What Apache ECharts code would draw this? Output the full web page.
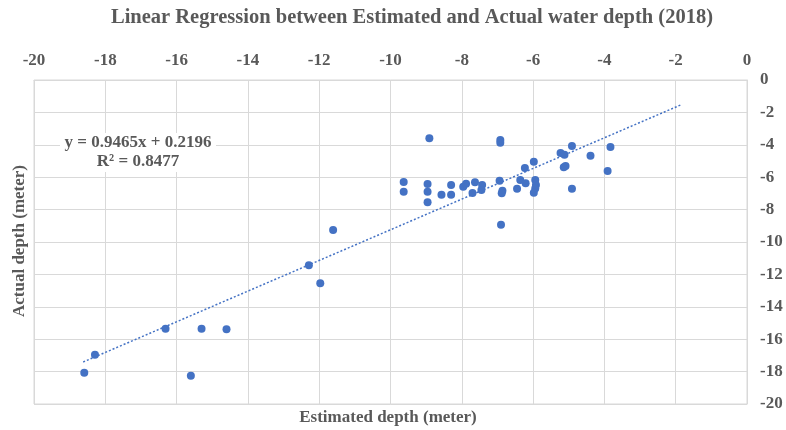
<!DOCTYPE html>
<html>
<head>
<meta charset="utf-8">
<title>Linear Regression</title>
<script src="https://cdn.jsdelivr.net/npm/echarts@6/dist/echarts.min.js"></script>
<style>
  html, body { margin: 0; padding: 0; background: #fff; }
  #main { width: 786px; height: 430px; }
</style>
</head>
<body>
<div id="main"></div>
<script>
// estimated depth (x) and actual depth (y)
var estimated = [-8.91, -6.92, -6.92, -9.63, -9.63, -8.96, -8.96, -8.96, -8.57, -8.30,
  -8.30, -7.96, -7.88, -7.70, -7.63, -7.43, -7.45, -6.94, -6.86, -6.88,
  -6.45, -6.36, -6.21, -6.23, -5.98, -5.94, -5.92, -5.94, -5.98, -4.91,
  -5.23, -5.12, -3.83, -4.39, -5.14, -5.09, -3.91, -4.91, -6.90, -11.61,
  -12.29, -11.97, -16.31, -15.30, -14.60, -18.29, -18.59, -15.60];
var actual = [-3.60, -3.70, -3.87, -6.30, -6.90, -6.42, -6.90, -7.55, -7.08, -6.48,
  -7.08, -6.59, -6.40, -6.98, -6.31, -6.48, -6.79, -6.22, -6.83, -6.99,
  -6.71, -6.17, -6.38, -5.43, -5.04, -6.17, -6.48, -6.69, -6.96, -4.07,
  -4.51, -4.61, -4.14, -4.67, -5.39, -5.31, -5.62, -6.71, -8.93, -9.26,
  -11.44, -12.55, -15.35, -15.35, -15.39, -16.96, -18.07, -18.25];

// trendline from the stated equation
var slope = 0.9465, intercept = 0.2196;
var trendRange = [-18.62, -1.84];

var xTicks = [-20, -18, -16, -14, -12, -10, -8, -6, -4, -2, 0];
var yTicks = [0, -2, -4, -6, -8, -10, -12, -14, -16, -18, -20];

var points = estimated.map(function (x, i) { return [x, actual[i]]; });
var trend = trendRange.map(function (x) { return [x, slope * x + intercept]; });

var grey = '#595959';
var fontFam = '"Liberation Serif", "DejaVu Serif", serif';

var myChart = echarts.init(document.getElementById('main'));
myChart.setOption({
  animation: false,
  backgroundColor: '#fff',
  grid: { left: 34, right: 39, top: 80, bottom: 26 },
  xAxis: {
    type: 'value',
    position: 'top',
    min: xTicks[0],
    max: xTicks[xTicks.length - 1],
    interval: 2,
    axisLine: { show: true, lineStyle: { color: '#d9d9d9' } },
    axisTick: { show: false },
    axisLabel: { margin: 11, fontFamily: fontFam, fontWeight: 'bold', fontSize: 17, color: grey },
    splitLine: { show: true, lineStyle: { color: '#d9d9d9' } }
  },
  yAxis: {
    type: 'value',
    position: 'right',
    min: yTicks[yTicks.length - 1],
    max: yTicks[0],
    interval: 2,
    axisLine: { show: true, lineStyle: { color: '#d9d9d9' } },
    axisTick: { show: false },
    axisLabel: { margin: 13, fontFamily: fontFam, fontWeight: 'bold', fontSize: 17, color: grey },
    splitLine: { show: true, lineStyle: { color: '#d9d9d9' } }
  },
  graphic: [
    { type: 'text', x: 412, y: 18,
      style: { text: 'Linear Regression between Estimated and Actual water depth (2018)',
        font: 'bold 20.5px ' + fontFam, fill: grey, align: 'center', verticalAlign: 'middle' } },
    { type: 'rect', shape: { x: 34, y: 80, width: 713, height: 324 },
      style: { fill: 'none', stroke: '#d9d9d9', lineWidth: 1 }, silent: true },
    { type: 'text', x: 388, y: 418,
      style: { text: 'Estimated depth (meter)', font: 'bold 17px ' + fontFam, fill: grey,
        align: 'center', verticalAlign: 'middle' } },
    { type: 'text', x: 20, y: 241, rotation: Math.PI / 2,
      style: { text: 'Actual depth (meter)', font: 'bold 17px ' + fontFam, fill: grey,
        align: 'center', verticalAlign: 'middle' } },
    { type: 'rect', shape: { x: 60, y: 133, width: 156, height: 39 },
      style: { fill: '#fff' }, z: 100, silent: true },
    { type: 'text', x: 138, y: 143, z: 101,
      style: { text: 'y = 0.9465x + 0.2196', font: 'bold 17px ' + fontFam, fill: grey,
        align: 'center', verticalAlign: 'middle' } },
    { type: 'text', x: 138, y: 162, z: 101,
      style: { text: 'R² = 0.8477', font: 'bold 17px ' + fontFam, fill: grey,
        align: 'center', verticalAlign: 'middle' } }
  ],
  series: [
    {
      name: 'Trend',
      type: 'line',
      data: trend,
      symbol: 'none',
      lineStyle: { color: '#4472c4', width: 1.5, type: [2, 2] },
      z: 2
    },
    {
      name: 'Depth',
      type: 'scatter',
      data: points,
      symbolSize: 8,
      itemStyle: { color: '#4472c4', opacity: 1 },
      z: 3
    }
  ]
});
</script>
</body>
</html>
